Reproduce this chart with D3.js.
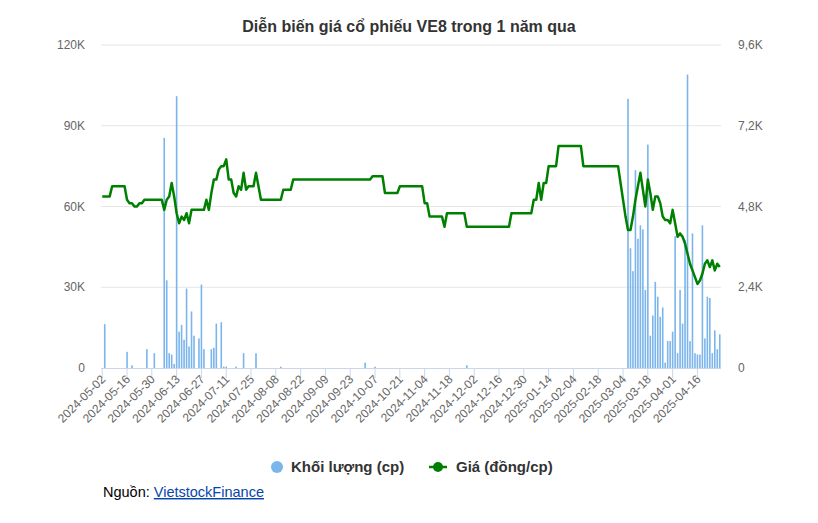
<!DOCTYPE html>
<html><head><meta charset="utf-8">
<script src="https://cdn.jsdelivr.net/npm/d3@7"></script>
<style>body{margin:0;background:#fff;font-family:"Liberation Sans",Arial,sans-serif}</style>
</head><body><svg id="c" width="818" height="523"></svg>
<script>
// trading-day count and labels (every 10th session)
const nDays = 250;
const tickLabels = ["2024-05-02","2024-05-16","2024-05-30","2024-06-13","2024-06-27","2024-07-11","2024-07-25","2024-08-08","2024-08-22","2024-09-09","2024-09-23","2024-10-07","2024-10-21","2024-11-04","2024-11-18","2024-12-02","2024-12-16","2024-12-30","2025-01-14","2025-02-04","2025-02-18","2025-03-04","2025-03-18","2025-04-01","2025-04-16"];
// price: [session index, price] -- price holds until next entry
const priceRuns = [[0,5100],[4,5400],[10,5000],[11,4900],[13,4800],[15,4900],[17,5000],[25,4700],[26,5000],[27,5100],[28,5500],[29,5100],[30,4600],[31,4300],[32,4500],[33,4400],[34,4600],[35,4300],[36,4700],[42,5000],[43,4700],[44,5200],[45,5600],[47,5900],[48,6000],[50,6200],[51,5600],[53,5200],[54,5100],[55,5400],[56,5300],[57,5800],[58,5300],[59,5400],[62,5800],[63,5400],[64,5000],[73,5300],[77,5600],[109,5700],[114,5200],[120,5400],[130,4900],[132,4500],[138,4200],[139,4600],[147,4200],[165,4600],[174,5000],[176,5500],[177,5000],[178,5500],[180,6000],[184,6600],[194,6000],[208,6000],[209,5500],[210,5000],[211,4500],[212,4100],[214,4500],[215,5000],[216,5400],[217,5800],[218,5300],[219,4800],[220,5600],[221,5200],[222,4700],[223,5100],[225,4900],[226,4500],[227,4400],[229,4300],[230,4700],[231,4300],[232,3900],[233,4000],[234,3900],[235,3700],[236,3400],[237,3100],[238,2900],[239,2700],[240,2500],[241,2600],[242,2800],[243,3100],[244,3200],[245,3000],[246,3200],[247,2900],[248,3100],[249,3000]];
// volume: [session index, shares]; other sessions had no trades
const volumes = [[1,16300],[10,6000],[12,1000],[18,7000],[21,5500],[25,85500],[26,32600],[27,5500],[28,5000],[29,1500],[30,101000],[31,13500],[32,16000],[33,10500],[34,29500],[35,8000],[36,21000],[37,12000],[39,11000],[40,31000],[41,7000],[44,7000],[45,7500],[46,16500],[48,17000],[49,500],[50,500],[54,500],[57,5500],[62,5500],[72,500],[106,2000],[110,500],[147,1000],
[212,100000],[213,44500],[214,36000],[215,73500],[216,48000],[217,53000],[218,51500],[219,29000],[220,83000],[221,12000],[222,19500],[223,32000],[224,26500],[225,19000],[226,22500],[227,2000],[228,10000],[229,10000],[230,13500],[231,49000],[232,5500],[233,29000],[234,16500],[235,47500],[236,109000],[237,10000],[238,50000],[239,5500],[240,5000],[241,5000],[242,53000],[243,11000],[244,26500],[245,26000],[246,5500],[247,14000],[248,7000],[249,12500]];
const volTicks = [0,30000,60000,90000,120000];
const priceTicks = [0,2400,4800,7200,9600];

const svg = d3.select("#c");
const L = 101, R = 721, T = 45, B = 368;
const x = d3.scaleLinear().domain([-0.5, nDays - 0.5]).range([L, R]);
const yV = d3.scaleLinear().domain([0, 120000]).range([B, T]);
const yP = d3.scaleLinear().domain([0, 9600]).range([B, T]);
const fmtK = v => v === 0 ? "0" : (v / 1000).toString().replace(".", ",") + "K";

svg.append("text").attr("x", 409).attr("y", 32).attr("text-anchor", "middle")
  .attr("font-size", 16).attr("font-weight", "bold").attr("fill", "#333")
  .text("Diễn biến giá cổ phiếu VE8 trong 1 năm qua");

svg.append("g").selectAll("line").data(volTicks.slice(1)).join("line")
  .attr("x1", L).attr("x2", R).attr("y1", d => yV(d)).attr("y2", d => yV(d))
  .attr("stroke", "#e6e6e6");

svg.append("g").selectAll("text").data(volTicks).join("text")
  .attr("x", 85).attr("y", d => yV(d) + 4).attr("text-anchor", "end")
  .attr("font-size", 12).attr("fill", "#666").text(fmtK);
svg.append("g").selectAll("text").data(priceTicks).join("text")
  .attr("x", 738).attr("y", d => yP(d) + 4)
  .attr("font-size", 12).attr("fill", "#666").text(fmtK);

// bars
svg.append("g").selectAll("rect").data(volumes).join("rect")
  .attr("x", d => x(d[0]) - 0.8).attr("width", 1.6)
  .attr("y", d => yV(d[1])).attr("height", d => B - yV(d[1]))
  .attr("fill", "#7cb5ec");

// x axis
svg.append("line").attr("x1", L).attr("x2", R).attr("y1", B + 0.5).attr("y2", B + 0.5).attr("stroke", "#ccd6eb");
const tk = svg.append("g").selectAll("g").data(tickLabels).join("g")
  .attr("transform", (d, i) => `translate(${x(i * 10)},${B})`);
tk.append("line").attr("y1", 0).attr("y2", 10).attr("stroke", "#ccd6eb");
tk.append("text").attr("transform", "translate(4,12) rotate(-45)").attr("text-anchor", "end")
  .attr("font-size", 12).attr("fill", "#666").text(d => d);

// price line
const price = [];
for (let k = 0; k < priceRuns.length; k++) {
  const end = k + 1 < priceRuns.length ? priceRuns[k + 1][0] : nDays;
  for (let i = priceRuns[k][0]; i < end; i++) price.push([i, priceRuns[k][1]]);
}
svg.append("path").datum(price)
  .attr("d", d3.line().x(d => x(d[0])).y(d => yP(d[1])))
  .attr("fill", "none").attr("stroke", "#008000").attr("stroke-width", 2.5).attr("stroke-linejoin", "round");

// legend
const lg = svg.append("g").attr("font-size", 15).attr("font-weight", "bold").attr("fill", "#333");
lg.append("circle").attr("cx", 277).attr("cy", 467).attr("r", 6).attr("fill", "#7cb5ec");
lg.append("text").attr("x", 291).attr("y", 472).text("Khối lượng (cp)");
lg.append("line").attr("x1", 429).attr("x2", 447).attr("y1", 467).attr("y2", 467).attr("stroke", "#008000").attr("stroke-width", 2.5);
lg.append("circle").attr("cx", 438).attr("cy", 467).attr("r", 5).attr("fill", "#008000");
lg.append("text").attr("x", 456).attr("y", 472).text("Giá (đồng/cp)");

const src = svg.append("text").attr("x", 103).attr("y", 497).attr("font-size", 14.5).attr("fill", "#000");
src.append("tspan").text("Nguồn: ");
src.append("tspan").attr("fill", "#0645ad").attr("text-decoration", "underline").text("VietstockFinance");
</script></body></html>
